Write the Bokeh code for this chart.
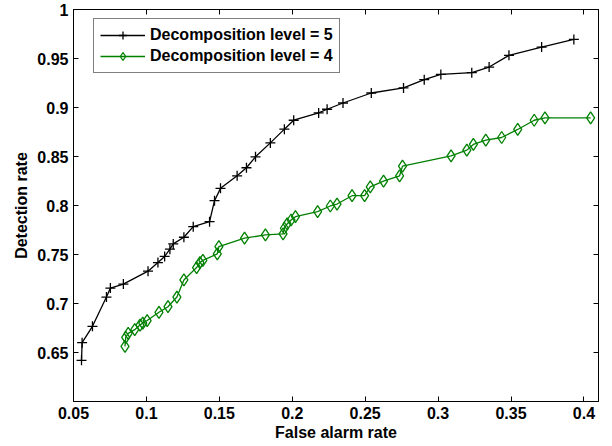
from bokeh.plotting import figure
from bokeh.models import Range1d, FixedTicker, LinearAxis, Legend, LegendItem
from bokeh.embed import file_html
from bokeh.resources import INLINE

# Decomposition level = 5
far5 = [0.0555, 0.0559, 0.0630, 0.0726, 0.0753, 0.0842, 0.1011, 0.1079, 0.1125,
        0.1161, 0.1184, 0.1257, 0.1321, 0.1433, 0.1467, 0.1508, 0.1622, 0.1686,
        0.1748, 0.1850, 0.1946, 0.2010, 0.2181, 0.2239, 0.2348, 0.2542, 0.2763,
        0.2905, 0.3019, 0.3231, 0.3350, 0.3486, 0.3710, 0.3931]
det5 = [0.642, 0.660, 0.6767, 0.7066, 0.7157, 0.7198, 0.7330, 0.7418, 0.7480,
        0.7554, 0.7608, 0.7676, 0.7784, 0.7835, 0.8049, 0.8175, 0.8303, 0.8385,
        0.8497, 0.8639, 0.8779, 0.8870, 0.8945, 0.8982, 0.9046, 0.9148, 0.9200,
        0.9284, 0.9338, 0.9355, 0.9413, 0.9532, 0.9617, 0.9695]

# Decomposition level = 4
far4 = [0.0853, 0.0858, 0.0875, 0.0920, 0.0956, 0.0975, 0.1005, 0.1086, 0.1148,
        0.1209, 0.1257, 0.1344, 0.1367, 0.1387, 0.1486, 0.1497, 0.1673, 0.1816,
        0.1937, 0.1946, 0.1965, 0.1992, 0.2022, 0.2174, 0.2261, 0.2307, 0.2410,
        0.2496, 0.2535, 0.2626, 0.2736, 0.2756, 0.3089, 0.3197, 0.3242, 0.3327,
        0.3436, 0.3546, 0.3659, 0.3733, 0.4046]
det4 = [0.6563, 0.6655, 0.6695, 0.6733, 0.6780, 0.6800, 0.6826, 0.6910, 0.6967,
        0.7066, 0.7240, 0.7367, 0.7418, 0.7440, 0.7506, 0.7581, 0.7666, 0.7700,
        0.7710, 0.7768, 0.7812, 0.7852, 0.7886, 0.7937, 0.7995, 0.8015, 0.8100,
        0.8100, 0.8191, 0.8249, 0.8303, 0.8402, 0.8507, 0.8565, 0.8623, 0.8667,
        0.8694, 0.8776, 0.8870, 0.8894, 0.8894]

x_ticks = [0.05, 0.1, 0.15, 0.2, 0.25, 0.3, 0.35, 0.4]
x_tick_labels = ["0.05", "0.1", "0.15", "0.2", "0.25", "0.3", "0.35", "0.4"]
y_ticks = [0.65, 0.7, 0.75, 0.8, 0.85, 0.9, 0.95, 1.0]
y_tick_labels = ["0.65", "0.7", "0.75", "0.8", "0.85", "0.9", "0.95", "1"]

FONT = "Liberation Sans"
GREEN = "#008000"

p = figure(width=612, height=446, output_backend="svg", toolbar_location=None,
           x_range=Range1d(0.05, 0.41), y_range=Range1d(0.6, 1.0),
           min_border_left=73, min_border_right=14, min_border_top=9,
           min_border_bottom=45)
p.grid.visible = False
p.outline_line_color = "black"
p.outline_line_width = 1
p.background_fill_color = "white"
p.border_fill_color = "white"

def style_axis(ax, labels=True):
    ax.major_tick_in = 5
    ax.major_tick_out = 0
    ax.minor_tick_line_color = None
    ax.axis_line_color = "black"
    ax.major_tick_line_color = "black"
    ax.major_label_text_font = FONT
    ax.major_label_text_font_style = "bold"
    ax.major_label_text_color = "black"
    ax.axis_label_text_font = FONT
    ax.axis_label_text_font_style = "bold"
    ax.axis_label_text_font_size = "16px"
    ax.axis_label_text_color = "black"
    ax.major_label_text_font_size = "16px"
    if not labels:
        ax.major_label_text_color = None
        ax.major_label_standoff = 0

xa = p.xaxis[0]
xa.ticker = FixedTicker(ticks=x_ticks)
xa.major_label_overrides = dict(zip(x_ticks, x_tick_labels))
xa.axis_label = "False alarm rate"
style_axis(xa)
xa.major_label_standoff = 5
xa.axis_label_standoff = 2

ya = p.yaxis[0]
ya.ticker = FixedTicker(ticks=y_ticks)
ya.major_label_overrides = dict(zip(y_ticks, y_tick_labels))
ya.axis_label = "Detection rate"
style_axis(ya)
ya.major_label_standoff = 5
ya.axis_label_standoff = 4

top = LinearAxis(ticker=FixedTicker(ticks=x_ticks))
style_axis(top, labels=False)
p.add_layout(top, "above")
right = LinearAxis(ticker=FixedTicker(ticks=y_ticks))
style_axis(right, labels=False)
p.add_layout(right, "right")

l5 = p.line(far5, det5, line_color="black", line_width=1.3)
s5 = p.scatter(far5, det5, marker="cross", size=10, line_color="black", line_width=1.3)
l4 = p.line(far4, det4, line_color=GREEN, line_width=1.3)
s4 = p.scatter(far4, det4, marker="diamond", size=12, line_color=GREEN,
               fill_color=None, line_width=1.3)

legend = Legend(items=[
    LegendItem(label="Decomposition level = 5", renderers=[l5, s5]),
    LegendItem(label="Decomposition level = 4", renderers=[l4, s4]),
], location=(20, 328))
legend.label_text_font = FONT
legend.label_text_font_style = "bold"
legend.label_text_font_size = "16px"
legend.label_text_color = "black"
legend.label_height = 20
legend.glyph_height = 20
legend.glyph_width = 45
legend.label_standoff = 5
legend.spacing = 1
legend.padding = 6
legend.margin = 0
legend.border_line_color = "black"
legend.border_line_width = 1
legend.background_fill_color = "white"
legend.background_fill_alpha = 1
p.add_layout(legend)

open("out.html", "w").write(file_html(p, INLINE))
